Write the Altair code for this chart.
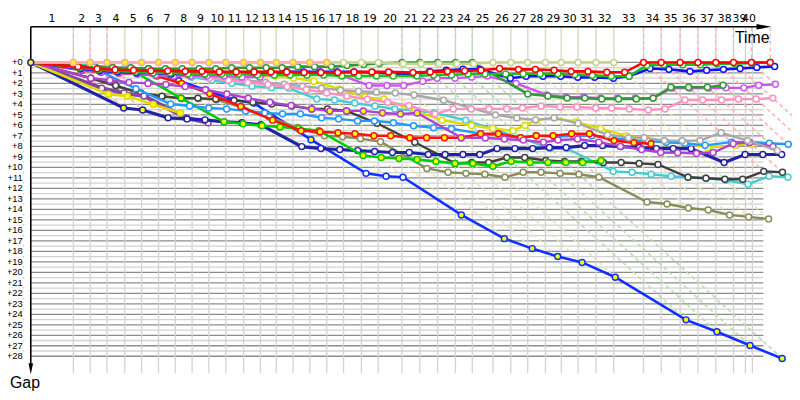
import altair as alt
import pandas as pd

# leader's elapsed time (minutes) at the end of each lap 0..40
lead_time = [0.0, 3.68, 5.13, 6.58, 8.12, 9.57, 11.03, 12.48, 13.93, 15.38,
             16.84, 18.38, 19.83, 21.2, 22.65, 24.1, 25.56, 27.01, 28.55, 30.0,
             32.05, 33.59, 35.13, 36.67, 38.12, 39.91, 41.45, 42.91, 44.44, 45.81,
             47.26, 48.8, 50.34, 52.91, 54.44, 56.07, 57.61, 59.15, 60.68, 62.22,
             63.85]
grid_time = lead_time[:39] + [61.71, 62.31]
lap_labels = [str(i) for i in range(1, 41)]
gap_ticks = list(range(0, 29))

# leader colour for each lap 1..40 (used for the lap lines)
lap_line_color = (["#ffb4b4"] * 3 + ["#dfe8bf"] * 16 + ["#b8dcb0"] * 5 +
                  ["#dfe8bf"] * 8 + ["#ffb4b4"] * 8)

# gap to the leader (minutes) per car, from lap 0
yg_gap = [0, 0, 0, 0, 0, 0, 0, 0, 0, 0, 0, 0, 0, 0, 0, 0, 0, 0, 0, 0,
          0.12, 0.12, 0.12, 0.12, 0.12, 0, 0, 0, 0, 0, 0, 0, 0]
pinky_gap = [0] * 17
red_gap = [0, 0.4, 0.6, 0.7, 0.75, 0.8, 0.8, 0.85, 0.85, 0.9,
           0.9, 0.9, 0.9, 0.9, 0.95, 0.95, 0.95, 0.9, 0.9, 0.9,
           0.95, 0.9, 0.85, 0.8, 0.75, 0.57, 0.66, 0.66, 0.75, 0.85,
           0.85, 0.94, 0.94, 0, 0, 0, 0, 0, 0, 0, 0]
green_gap = [0, 0.5, 0.7, 0.8, 0.9, 1.0, 1.0, 1.1, 1.1, 1.1,
             1.1, 1.2, 1.2, 1.2, 1.2, 1.2, 1.3, 1.3, 1.3, 1.3,
             1.3, 1.2, 1.2, 1.1, 1.1, 1.1, 1.07, 1.07, 1.07, 1.16,
             1.23, 1.32, 1.32, 0.28, 0.22, 0.22, 0.22, 0.12, 0.12, 0.06, 0]
blue_gap = [0, 0.6, 0.8, 0.9, 1.0, 1.0, 1.1, 1.1, 1.1, 1.0,
            1.0, 1.0, 1.0, 0.9, 0.9, 0.9, 0.9, 0.9, 0.95, 1.05,
            1.15, 0.85, 0.75, 0.65, 0.65, 1.5, 1.32, 1.32, 1.32, 1.42,
            1.42, 1.51, 1.32, 0.57, 0.66, 0.85, 0.75, 0.66, 0.57, 0.47, 0.38]
dkgreen_gap = [0, 0.3, 0.4, 0.5, 0.5, 0.6, 0.6, 0.6, 0.6, 0.6,
               0.5, 0.5, 0.5, 0.5, 0.4, 0.4, 0.4, 0.3, 0.2, 0.1,
               0, 0, 0, 0, 0, 3.0, 3.2, 3.4, 3.4, 3.49,
               3.49, 3.49, 3.4, 2.36, 2.36, 2.36, 2.17]
violet_gap = [0, 0.7, 0.9, 1.0, 1.1, 1.2, 1.3, 1.3, 1.3, 1.3,
              1.4, 1.4, 1.0, 1.0, 1.0, 1.0, 1.2, 2.2, 2.2, 2.2,
              1.8, 1.5, 1.5, 1.4, 1.3, 2.0, 3.1, 3.3, 3.3, 3.4,
              3.4, 3.4, 3.4, 2.45, 2.45, 2.45, 2.42, 2.42, 2.17, 2.08]
pinkw_gap = [0, 0.3, 0.5, 0.7, 0.9, 1.0, 1.2, 1.3, 1.5, 1.7,
             1.9, 2.1, 2.3, 2.6, 2.9, 3.2, 3.5, 3.8, 4.1, 4.9,
             4.43, 4.43, 4.43, 4.43, 4.34, 4.15, 4.25, 4.25, 4.34, 4.34,
             4.43, 4.53, 4.43, 3.58, 3.58, 3.58, 3.49, 3.49, 3.4]
gray_gap = [0, 0.4, 0.6, 0.8, 1.0, 1.1, 1.2, 1.3, 1.4, 1.5,
            1.7, 1.9, 2.08, 2.26, 2.45, 2.64, 2.74, 2.83, 2.92, 3.1,
            3.6, 4.3, 5.0, 5.3, 5.47, 5.28, 5.8, 6.89, 7.17, 7.17,
            7.45, 7.45, 7.45, 6.7, 7.45, 8.4]
dkgray_gap = [0, 1.5, 2.2, 2.92, 3.21, 3.4, 3.4, 3.49, 3.62, 3.8,
              3.96, 4.15, 4.43, 4.43, 4.62, 5.8, 7.6, 9.62, 9.53, 9.53,
              9.06, 9.06, 9.34, 9.43, 9.43, 9.53, 9.53, 9.62, 9.72, 10.94,
              11.04, 11.13, 11.13, 10.38, 10.47]
olive_gap = [0, 1.5, 2.3, 2.95, 3.25, 3.45, 3.45, 3.55, 4.3, 5.2,
             6.2, 6.98, 7.08, 7.26, 7.55, 10.1, 10.47, 10.57, 10.66, 10.94,
             10.47, 10.47, 10.57, 10.66, 10.94, 13.3, 13.49, 13.87, 14.06, 14.53,
             14.72, 14.91]
cyan_gap = [0, 0.19, 0.28, 0.5, 0.7, 0.9, 1.1, 1.4, 1.7, 1.98,
            2.26, 2.4, 2.45, 3.49, 3.58, 3.87, 4.15, 4.43, 4.62, 4.81,
            5.5, 6.4, 7.2, 8.21, 8.21, 10.38, 10.47, 10.66, 10.85, 10.94,
            11.04, 11.23, 11.6, 10.85, 10.94]
ltblue_gap = [0, 0.4, 0.8, 2.5, 3.96, 4.15, 4.34, 4.43, 4.62, 4.81,
              4.9, 4.9, 5.28, 5.38, 5.57, 5.57, 5.75, 6.04, 6.23, 6.32,
              6.79, 6.98, 7.17, 6.98, 7.08, 6.98, 6.98, 7.2, 7.4, 7.5,
              7.6, 7.7, 7.9, 7.6, 7.6, 7.7, 7.8, 7.8, 7.8]
redy_gap = [0, 0.75, 0.94, 1.04, 1.04, 1.3, 2.0, 2.97, 4.2, 5.5,
            6.5, 6.6, 6.7, 6.79, 6.98, 6.98, 7.17, 7.17, 7.17, 7.17,
            6.79, 6.79, 7.17, 6.98, 6.98, 6.79, 6.79, 7.45, 7.64, 7.74]
greeny_gap = [0, 0.6, 0.8, 0.9, 1.0, 3.4, 5.66, 5.85, 6.04, 6.15,
              6.3, 6.5, 8.87, 9.06, 9.15, 9.25, 9.43, 9.62, 9.62, 9.9,
              9.43, 9.53, 9.53, 9.53, 9.53, 9.34]
navy_gap = [0, 4.34, 4.53, 5.28, 5.38, 5.47, 5.66, 5.75, 5.94, 8.02,
            8.21, 8.3, 8.4, 8.49, 8.58, 8.58, 8.77, 8.77, 8.77, 8.77,
            8.21, 8.21, 8.21, 8.11, 8.11, 7.92, 7.92, 8.02, 8.11, 8.21,
            8.21, 8.21, 9.53, 8.77, 8.77, 8.77]
bb_gap = [0, 0.3, 0.4, 0.5, 0.55, 0.6, 1.75, 2.63, 3.58, 3.87,
          7.36, 10.57, 10.85, 10.94, 14.53, 16.79, 17.74, 18.49, 19.06, 20.47,
          24.53, 25.66, 26.98, 28.21]
yellow1_gap = [0, 3.02, 3.21, 4.0, 4.81]
yellow2_gap = [0, 0.5, 0.7, 0.8, 0.9, 1.0, 1.0, 1.1, 1.1, 1.2,
               1.2, 1.3, 1.3, 1.5, 1.79, 2.55, 3.3, 3.49, 4.62, 5.5,
               6.0, 6.3, 6.5, 6.0, 5.5, 5.28, 5.66, 6.3, 7.0, 7.3,
               7.5, 7.7, 8.1, 7.9, 7.8, 7.74]
purple_gap = [0, 2.45, 2.92, 3.2, 5.3, 5.75]
magy_gap = [0, 1.5, 1.7, 1.9, 2.0, 2.1, 2.3, 2.6, 3.0, 3.4,
            3.8, 4.1, 4.43, 4.62, 4.62, 4.62, 4.81, 4.91, 4.81, 7.17,
            7.2, 7.3, 7.4, 7.6, 7.4, 7.3, 7.6, 8.0, 8.3, 8.58,
            8.6, 8.68, 8.58, 7.74, 7.64, 8.02]

Y_FILL = "#ffff00"
W_FILL = "#ffffff"

# drawing order: first drawn is at the bottom
cars = [
    ("bb", bb_gap, "#1030ff", 2.6, Y_FILL, [9, 11, 12, 13]),
    ("olive", olive_gap, "#8c8c58", 2.4, W_FILL, []),
    ("cyan", cyan_gap, "#44ccd4", 2.4, W_FILL, []),
    ("dkgray", dkgray_gap, "#404040", 2.4, W_FILL, []),
    ("purple", purple_gap, "#8844a0", 4.0, W_FILL, []),
    ("navy", navy_gap, "#2222a8", 3.2, W_FILL, [1, 2, 6, 7, 8]),
    ("greeny", greeny_gap, "#00cc00", 2.6, Y_FILL, []),
    ("yellow1", yellow1_gap, "#dcdc00", 2.6, Y_FILL, []),
    ("yellow2", yellow2_gap, "#dcdc00", 2.4, W_FILL, []),
    ("ltblue", ltblue_gap, "#2299ff", 2.4, W_FILL, []),
    ("redy", redy_gap, "#ff1010", 2.6, Y_FILL, []),
    ("magy", magy_gap, "#b040d0", 2.4, W_FILL, list(range(12, 20))),
    ("gray", gray_gap, "#a8a8a8", 2.4, W_FILL, []),
    ("pinkw", pinkw_gap, "#ff90c0", 2.4, W_FILL, []),
    ("violet", violet_gap, "#cc55ee", 2.4, W_FILL, []),
    ("dkgreen", dkgreen_gap, "#339933", 2.6, W_FILL, []),
    ("blue", blue_gap, "#1010ff", 2.6, W_FILL, []),
    ("green", green_gap, "#22bb22", 2.6, W_FILL, []),
    ("red", red_gap, "#ff0000", 2.6, W_FILL, []),
    ("yg", yg_gap, "#c2d48e", 2.6, W_FILL, []),
    ("pinky", pinky_gap, "#ffa8b4", 2.6, Y_FILL, []),
]

XS = alt.Scale(domain=[-1.966, 65.73], nice=False, zero=False)
YS = alt.Scale(domain=[-5.0, 31.98], nice=False, zero=False, reverse=True)


def X(f="t"):
    return alt.X(f"{f}:Q", scale=XS, axis=None)


def Y(f="g"):
    return alt.Y(f"{f}:Q", scale=YS, axis=None)


TOP_G = -3.4
layers = []

# horizontal grid
hl = pd.DataFrame({"g": [i + 0.5 for i in range(28)], "t": 0.0, "t2": 63.25})
hd = pd.DataFrame({"g": gap_ticks, "t": 0.0, "t2": 63.25})
layers.append(alt.Chart(hl).mark_rule(color="#d2d2d2", strokeWidth=1.3).encode(
    x=X(), x2="t2:Q", y=Y()))
layers.append(alt.Chart(hd).mark_rule(color="#8c8c8c", strokeWidth=1.3).encode(
    x=X(), x2="t2:Q", y=Y()))

# vertical grid
vg = pd.DataFrame({"t": grid_time[1:], "g": TOP_G, "g2": 29.6})
layers.append(alt.Chart(vg).mark_rule(color="#d2d2d2", strokeWidth=1.3).encode(
    x=X(), y=Y(), y2="g2:Q"))

# lap lines: dashed vertical above the leader, dashed diagonal down to the last car
rows_v, rows_d = [], []
for lap in range(1, 41):
    gmax = 0.0
    for _, gaps, *_r in cars:
        if lap < len(gaps):
            gmax = max(gmax, gaps[lap])
    t0 = lead_time[lap]
    c = lap_line_color[lap - 1]
    rows_v.append({"lap": lap, "t": t0, "g": TOP_G, "g2": 0.0, "c": c})
    rows_d.append({"lap": lap, "t": t0, "g": 0.0, "t2": t0 + gmax, "g2": gmax, "c": c})
dv = pd.DataFrame(rows_v)
dd = pd.DataFrame(rows_d)
layers.append(alt.Chart(dv).mark_rule(strokeWidth=1.3, strokeDash=[4, 3]).encode(
    x=X(), y=Y(), y2="g2:Q", color=alt.Color("c:N", scale=None)))
layers.append(alt.Chart(dd).mark_rule(strokeWidth=1.6, strokeDash=[4, 3]).encode(
    x=X(), y=Y(), x2="t2:Q", y2="g2:Q", color=alt.Color("c:N", scale=None)))

# axes
ax_rows = pd.DataFrame({"t": [0.0], "g": [TOP_G], "g2": [29.2], "t2": [63.3]})
layers.append(alt.Chart(ax_rows).mark_rule(color="black", strokeWidth=1.6).encode(
    x=X(), y=Y(), y2="g2:Q"))
layers.append(alt.Chart(ax_rows).mark_rule(color="black", strokeWidth=1.6).encode(
    x=X(), x2="t2:Q", y=Y()))
arr_r = pd.DataFrame({"t": [63.3], "g": [TOP_G]})
arr_d = pd.DataFrame({"t": [0.0], "g": [29.2]})
layers.append(alt.Chart(arr_r).mark_point(
    shape="M -1 -0.38 L 1 0 L -1 0.38 Z", filled=True, color="black", size=220, opacity=1
).encode(x=X(), y=Y()))
layers.append(alt.Chart(arr_d).mark_point(
    shape="M -0.4 -1 L 0 1 L 0.4 -1 Z", filled=True, color="black", size=130, opacity=1
).encode(x=X(), y=Y()))

# cars
for name, gaps, color, width, fill, alt_laps in cars:
    rows = []
    for lap, g in enumerate(gaps):
        f = fill
        if lap in alt_laps:
            f = W_FILL if fill == Y_FILL else Y_FILL
        rows.append({"lap": lap, "t": lead_time[lap] + g, "g": g, "fill": f})
    df = pd.DataFrame(rows)
    layers.append(alt.Chart(df).mark_line(color=color, strokeWidth=width).encode(
        x=X(), y=Y(), order="lap:Q"))
    layers.append(alt.Chart(df[df["lap"] > 0]).mark_point(
        filled=True, size=36, stroke=color, strokeWidth=1.5, opacity=1
    ).encode(x=X(), y=Y(), fill=alt.Fill("fill:N", scale=None)))

origin = pd.DataFrame({"t": [0.0], "g": [0.0]})
layers.append(alt.Chart(origin).mark_point(
    filled=True, size=36, stroke="#2222a8", strokeWidth=1.5, fill=Y_FILL, opacity=1
).encode(x=X(), y=Y()))

# lap labels
lab = pd.DataFrame({
    "t": [(grid_time[i - 1] + grid_time[i]) / 2 for i in range(1, 41)],
    "g": -4.15,
    "txt": lap_labels,
})
layers.append(alt.Chart(lab).mark_text(
    font="DejaVu Sans", fontSize=11, color="black", baseline="middle", align="center"
).encode(x=X(), y=Y(), text="txt:N"))

# gap labels
gl = pd.DataFrame({"g": gap_ticks, "t": -0.70, "txt": [f"+{v}" for v in gap_ticks]})
layers.append(alt.Chart(gl).mark_text(
    font="Liberation Sans", fontSize=9.5, color="black", baseline="middle", align="right"
).encode(x=X(), y=Y(), text="txt:N"))
gp = pd.DataFrame({"g": gap_ticks, "t": -0.68, "txt": ["'"] * len(gap_ticks)})
layers.append(alt.Chart(gp).mark_text(
    font="Liberation Sans", fontSize=7, color="#d08a20", baseline="middle", align="left", dy=-3
).encode(x=X(), y=Y(), text="txt:N"))

titles = pd.DataFrame({"t": [62.3, -0.5], "g": [-2.3, 30.55], "txt": ["Time", "Gap"]})
layers.append(alt.Chart(titles).mark_text(
    font="Liberation Sans", fontSize=16, color="black", baseline="middle", align="center"
).encode(x=X(), y=Y(), text="txt:N"))

chart = alt.layer(*layers).properties(
    width=792, height=392, autosize=alt.AutoSizeParams(type="none"), padding=0
).configure_view(stroke=None)

chart.save("out.html", embed_options={"renderer": "svg", "actions": False})
